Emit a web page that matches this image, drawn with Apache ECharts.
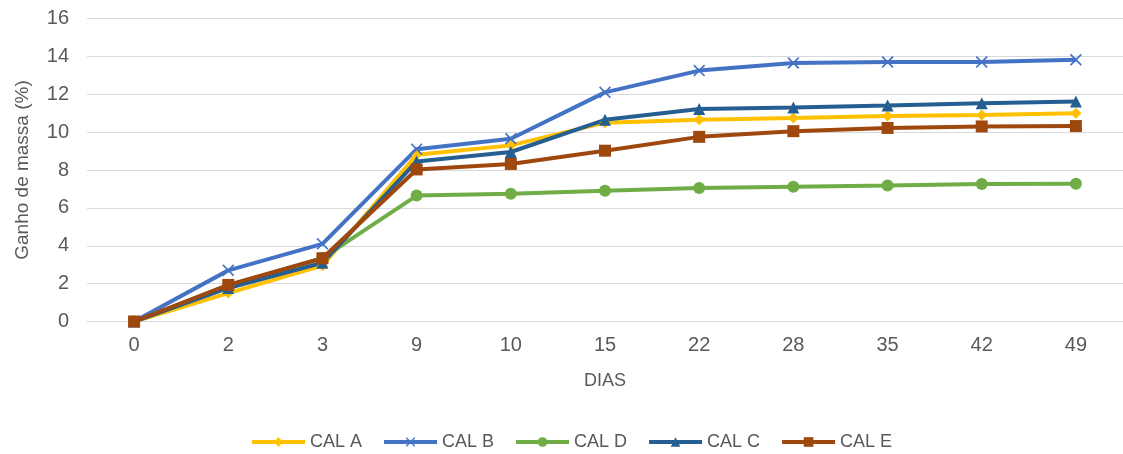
<!DOCTYPE html>
<html>
<head>
<meta charset="utf-8">
<script src="https://cdn.jsdelivr.net/npm/echarts@6/dist/echarts.min.js"></script>
<style>
html,body{margin:0;padding:0;background:#fff;}
#chart{width:1123px;height:454px;}
</style>
</head>
<body>
<div id="chart"></div>
<script>
const categories = ['0','2','3','9','10','15','22','28','35','42','49'];
const calA = [0, 1.5, 2.95, 8.8, 9.3, 10.5, 10.65, 10.75, 10.85, 10.9, 11.0];
const calB = [0, 2.7, 4.1, 9.1, 9.65, 12.1, 13.25, 13.65, 13.7, 13.7, 13.82];
const calD = [0, 1.9, 3.35, 6.65, 6.75, 6.9, 7.05, 7.12, 7.18, 7.26, 7.28];
const calC = [0, 1.77, 3.1, 8.45, 8.95, 10.65, 11.22, 11.3, 11.4, 11.52, 11.62];
const calE = [0, 1.93, 3.34, 8.03, 8.32, 9.02, 9.75, 10.05, 10.22, 10.3, 10.32];
const seriesNames = ['CAL A','CAL B','CAL D','CAL C','CAL E'];
const yAxisName = 'Ganho de massa (%)';
const xAxisName = 'DIAS';

const txt = '#595959';
const font = '"Liberation Sans", Arial, sans-serif';
const xPath = 'path://M0,1L1,0L5,4L9,0L10,1L6,5L10,9L9,10L5,6L1,10L0,9L4,5Z';

function mk(name, data, color, symbol, size) {
  return {
    name: name, type: 'line', data: data,
    symbol: symbol, symbolSize: size, showAllSymbol: true,
    lineStyle: {color: color, width: 4},
    itemStyle: {color: color},
    emphasis: {disabled: true},
    animation: false
  };
}

const chart = echarts.init(document.getElementById('chart'));
chart.setOption({
  backgroundColor: '#fff',
  animation: false,
  textStyle: {fontFamily: font},
  grid: {left: 87, right: 0, top: 18.5, bottom: 132.5, containLabel: false, outerBoundsMode: 'none'},
  legend: {
    left: 250, top: 433, padding: 0,
    itemWidth: 53, itemHeight: 12, itemGap: 20,
    lineStyle: {width: 4},
    textStyle: {color: txt, fontSize: 18, fontFamily: font},
    data: seriesNames
  },
  xAxis: {
    type: 'category', data: categories, boundaryGap: true,
    name: xAxisName, nameLocation: 'middle', nameGap: 51,
    nameTextStyle: {color: txt, fontSize: 18, fontFamily: font},
    axisLine: {lineStyle: {color: '#d9d9d9', width: 1}},
    axisTick: {show: false},
    axisLabel: {color: txt, fontSize: 20, margin: 14, fontFamily: font}
  },
  yAxis: {
    type: 'value', min: 0, max: 16, interval: 2,
    name: yAxisName, nameLocation: 'middle', nameGap: 55,
    nameTextStyle: {color: txt, fontSize: 19, fontFamily: font},
    axisLine: {show: false}, axisTick: {show: false},
    axisLabel: {color: txt, fontSize: 20, margin: 18, fontFamily: font},
    splitLine: {lineStyle: {color: '#d9d9d9', width: 1}}
  },
  series: [
    mk('CAL A', calA, '#FFC000', 'diamond', 11),
    mk('CAL B', calB, '#4472C4', xPath, 12),
    mk('CAL D', calD, '#70AD47', 'circle', 12),
    mk('CAL C', calC, '#255E91', 'triangle', 12),
    mk('CAL E', calE, '#9E480E', 'rect', 12)
  ]
});
</script>
</body>
</html>
